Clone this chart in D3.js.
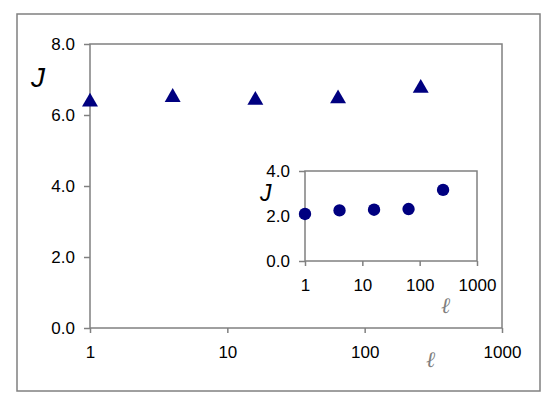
<!DOCTYPE html>
<html>
<head>
<meta charset="utf-8">
<script src="https://cdn.jsdelivr.net/npm/d3@7"></script>
<style>
body { margin: 0; background: #fff; }
</style>
</head>
<body>
<svg id="chart" width="554" height="403"></svg>
<script>
// main series (triangles)
var mainL = [1, 4, 16, 64, 256];
var mainJ = [6.43, 6.56, 6.48, 6.52, 6.82];
// inset series (circles)
var insetL = [1, 4, 16, 64, 256];
var insetJ = [2.09, 2.25, 2.28, 2.31, 3.16];
var xTicks = [1, 10, 100, 1000];
var mainYTicks = [0, 2, 4, 6, 8];
var insetYTicks = [0, 2, 4];

var svg = d3.select("#chart");
var font = "'Liberation Sans', Arial, sans-serif";

// outer frame
svg.append("rect")
    .attr("x", 17).attr("y", 14)
    .attr("width", 523).attr("height", 377)
    .attr("fill", "none")
    .attr("stroke", "#808080")
    .attr("stroke-width", 1.5);

function styleAxis(a) {
    a.select(".domain").remove();
    a.selectAll("line").attr("stroke", "#808080").attr("stroke-width", 1.5);
    a.selectAll("text")
        .attr("fill", "#000")
        .style("font-family", font)
        .style("font-size", "17px");
}

function drawPanel(box, lData, jData, yTicks, yMax, marker, size) {
    var x = d3.scaleLog().domain([1, 1000]).range([box.left, box.right]);
    var y = d3.scaleLinear().domain([0, yMax]).range([box.bottom, box.top]);

    var g = svg.append("g");

    // plot area frame
    g.append("rect")
        .attr("x", box.left).attr("y", box.top)
        .attr("width", box.right - box.left)
        .attr("height", box.bottom - box.top)
        .attr("fill", "#fff")
        .attr("stroke", "#808080")
        .attr("stroke-width", 1.5);

    g.append("g")
        .attr("transform", "translate(0," + box.bottom + ")")
        .call(d3.axisBottom(x).tickValues(xTicks).tickFormat(d3.format("d"))
            .tickSize(5).tickPadding(box.xPad))
        .call(styleAxis);

    g.append("g")
        .attr("transform", "translate(" + box.left + ",0)")
        .call(d3.axisLeft(y).tickValues(yTicks).tickFormat(d3.format(".1f"))
            .tickSize(6).tickPadding(9))
        .call(styleAxis);

    g.selectAll(".pt")
        .data(lData)
        .enter().append("path")
            .attr("class", "pt")
            .attr("d", d3.symbol().type(marker).size(size))
            .attr("transform", function(d, i) {
                var dy = marker === d3.symbolTriangle ? 2.2 : 0;
                return "translate(" + x(d) + "," + (y(jData[i]) + dy) + ")";
            })
            .attr("fill", "#000080");

    return g;
}

var main = drawPanel({left: 90, right: 502, top: 44, bottom: 328, xPad: 13},
    mainL, mainJ, mainYTicks, 8, d3.symbolTriangle, 110);

var inset = drawPanel({left: 305, right: 477, top: 171, bottom: 261, xPad: 13},
    insetL, insetJ, insetYTicks, 4, d3.symbolCircle, 120);

// axis titles
svg.append("text")
    .attr("x", 31).attr("y", 87)
    .style("font-family", font)
    .style("font-size", "28px").style("font-style", "italic")
    .text("J");
svg.append("text")
    .attr("x", 260).attr("y", 201)
    .style("font-family", font)
    .style("font-size", "23px").style("font-style", "italic")
    .text("J");
svg.append("text")
    .attr("x", 426).attr("y", 367)
    .style("font-family", "'DejaVu Serif'").style("font-size", "22px")
    .style("font-style", "italic").attr("fill", "#808080")
    .text("\u2113");
svg.append("text")
    .attr("x", 441).attr("y", 313)
    .style("font-family", "'DejaVu Serif'").style("font-size", "22px")
    .style("font-style", "italic").attr("fill", "#808080")
    .text("\u2113");
</script>
</body>
</html>
